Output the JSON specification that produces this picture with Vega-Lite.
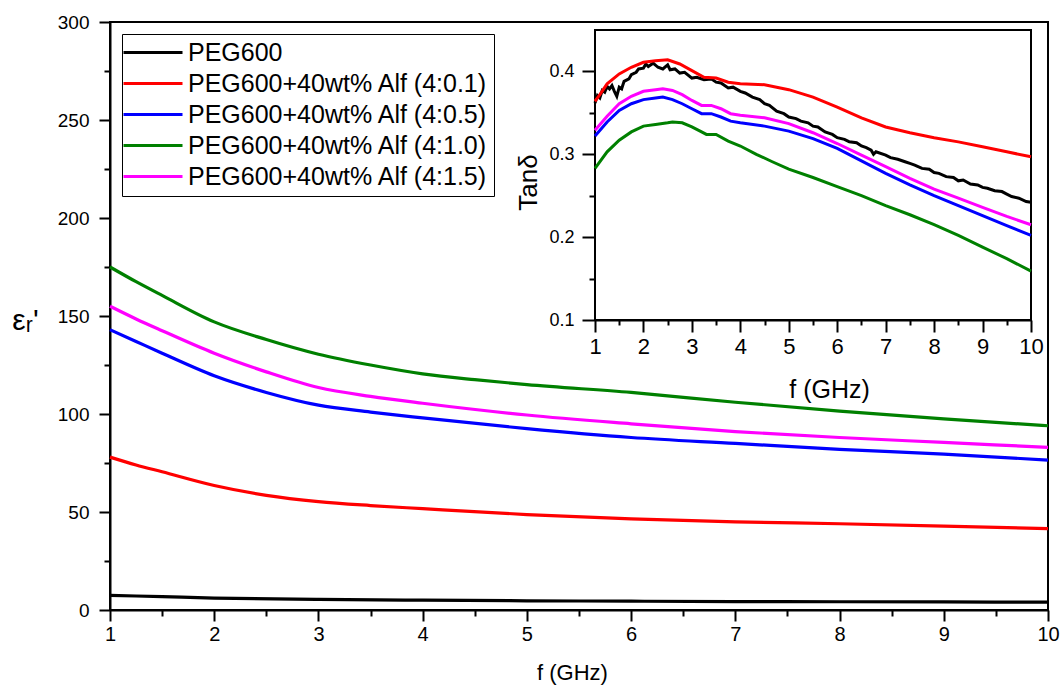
{
  "$schema": "https://vega.github.io/schema/vega-lite/v6.json",
  "autosize": {"type": "none"},
  "padding": {"left": 110, "top": 22, "right": 15, "bottom": 83},
  "width": 938,
  "height": 588,
  "background": "white",
  "config": {
    "view": {"stroke": "black", "strokeWidth": 2},
    "axis": {
      "domainColor": "black", "domainWidth": 2, "tickColor": "black", "tickWidth": 2,
      "labelColor": "black", "labelFont": "Liberation Sans", "titleFont": "Liberation Sans",
      "titleColor": "black", "titleFontWeight": "normal", "grid": false, "zindex": 1,
      "labelFlush": false, "labelOverlap": false
    },
    "legend": {
      "orient": "none", "legendX": 12, "legendY": 12, "title": null,
      "strokeColor": "black", "fillColor": "white", "padding": 6, "rowPadding": 5,
      "symbolType": "M-3.4,0H8.4", "symbolSize": 100, "symbolStrokeWidth": 3,
      "labelFont": "Liberation Sans", "labelFontSize": 25, "labelColor": "black", "labelOffset": 35,
      "labelLimit": 500
    }
  },
  "datasets": {
    "main": [
      {"s": "PEG600", "f": 1, "v": 7.5}, {"s": "PEG600", "f": 1.5, "v": 6.8}, {"s": "PEG600", "f": 2, "v": 6.1},
      {"s": "PEG600", "f": 3, "v": 5.4}, {"s": "PEG600", "f": 4, "v": 5.0}, {"s": "PEG600", "f": 5, "v": 4.7},
      {"s": "PEG600", "f": 6, "v": 4.5}, {"s": "PEG600", "f": 7, "v": 4.3}, {"s": "PEG600", "f": 8, "v": 4.2},
      {"s": "PEG600", "f": 9, "v": 4.1}, {"s": "PEG600", "f": 10, "v": 4.0},
      {"s": "PEG600+40wt% Alf (4:0.1)", "f": 1, "v": 78}, {"s": "PEG600+40wt% Alf (4:0.1)", "f": 1.25, "v": 74},
      {"s": "PEG600+40wt% Alf (4:0.1)", "f": 1.5, "v": 70.5}, {"s": "PEG600+40wt% Alf (4:0.1)", "f": 2, "v": 63.5},
      {"s": "PEG600+40wt% Alf (4:0.1)", "f": 2.5, "v": 58.5}, {"s": "PEG600+40wt% Alf (4:0.1)", "f": 3, "v": 55.3},
      {"s": "PEG600+40wt% Alf (4:0.1)", "f": 3.5, "v": 53.3}, {"s": "PEG600+40wt% Alf (4:0.1)", "f": 4, "v": 51.7},
      {"s": "PEG600+40wt% Alf (4:0.1)", "f": 5, "v": 48.7}, {"s": "PEG600+40wt% Alf (4:0.1)", "f": 6, "v": 46.5},
      {"s": "PEG600+40wt% Alf (4:0.1)", "f": 7, "v": 45.0}, {"s": "PEG600+40wt% Alf (4:0.1)", "f": 8, "v": 44.0},
      {"s": "PEG600+40wt% Alf (4:0.1)", "f": 9, "v": 42.8}, {"s": "PEG600+40wt% Alf (4:0.1)", "f": 10, "v": 41.5},
      {"s": "PEG600+40wt% Alf (4:0.5)", "f": 1, "v": 143}, {"s": "PEG600+40wt% Alf (4:0.5)", "f": 1.25, "v": 137},
      {"s": "PEG600+40wt% Alf (4:0.5)", "f": 1.5, "v": 131}, {"s": "PEG600+40wt% Alf (4:0.5)", "f": 2, "v": 119.5},
      {"s": "PEG600+40wt% Alf (4:0.5)", "f": 2.5, "v": 111}, {"s": "PEG600+40wt% Alf (4:0.5)", "f": 3, "v": 104.5},
      {"s": "PEG600+40wt% Alf (4:0.5)", "f": 3.5, "v": 101}, {"s": "PEG600+40wt% Alf (4:0.5)", "f": 4, "v": 98},
      {"s": "PEG600+40wt% Alf (4:0.5)", "f": 5, "v": 92.5}, {"s": "PEG600+40wt% Alf (4:0.5)", "f": 6, "v": 88},
      {"s": "PEG600+40wt% Alf (4:0.5)", "f": 7, "v": 85}, {"s": "PEG600+40wt% Alf (4:0.5)", "f": 8, "v": 82},
      {"s": "PEG600+40wt% Alf (4:0.5)", "f": 9, "v": 79.5}, {"s": "PEG600+40wt% Alf (4:0.5)", "f": 10, "v": 76.5},
      {"s": "PEG600+40wt% Alf (4:1.0)", "f": 1, "v": 175}, {"s": "PEG600+40wt% Alf (4:1.0)", "f": 1.25, "v": 167.5},
      {"s": "PEG600+40wt% Alf (4:1.0)", "f": 1.5, "v": 160.5}, {"s": "PEG600+40wt% Alf (4:1.0)", "f": 2, "v": 147},
      {"s": "PEG600+40wt% Alf (4:1.0)", "f": 2.5, "v": 138}, {"s": "PEG600+40wt% Alf (4:1.0)", "f": 3, "v": 130.5},
      {"s": "PEG600+40wt% Alf (4:1.0)", "f": 3.5, "v": 125}, {"s": "PEG600+40wt% Alf (4:1.0)", "f": 4, "v": 120.5},
      {"s": "PEG600+40wt% Alf (4:1.0)", "f": 4.5, "v": 117.5}, {"s": "PEG600+40wt% Alf (4:1.0)", "f": 5, "v": 115},
      {"s": "PEG600+40wt% Alf (4:1.0)", "f": 6, "v": 111}, {"s": "PEG600+40wt% Alf (4:1.0)", "f": 7, "v": 106},
      {"s": "PEG600+40wt% Alf (4:1.0)", "f": 8, "v": 101.5}, {"s": "PEG600+40wt% Alf (4:1.0)", "f": 9, "v": 97.5},
      {"s": "PEG600+40wt% Alf (4:1.0)", "f": 10, "v": 94},
      {"s": "PEG600+40wt% Alf (4:1.5)", "f": 1, "v": 155}, {"s": "PEG600+40wt% Alf (4:1.5)", "f": 1.25, "v": 148.5},
      {"s": "PEG600+40wt% Alf (4:1.5)", "f": 1.5, "v": 142.5}, {"s": "PEG600+40wt% Alf (4:1.5)", "f": 2, "v": 131},
      {"s": "PEG600+40wt% Alf (4:1.5)", "f": 2.5, "v": 121.5}, {"s": "PEG600+40wt% Alf (4:1.5)", "f": 3, "v": 113.5},
      {"s": "PEG600+40wt% Alf (4:1.5)", "f": 3.5, "v": 109}, {"s": "PEG600+40wt% Alf (4:1.5)", "f": 4, "v": 105.5},
      {"s": "PEG600+40wt% Alf (4:1.5)", "f": 5, "v": 99.5}, {"s": "PEG600+40wt% Alf (4:1.5)", "f": 6, "v": 95},
      {"s": "PEG600+40wt% Alf (4:1.5)", "f": 7, "v": 91}, {"s": "PEG600+40wt% Alf (4:1.5)", "f": 8, "v": 88},
      {"s": "PEG600+40wt% Alf (4:1.5)", "f": 9, "v": 85.5}, {"s": "PEG600+40wt% Alf (4:1.5)", "f": 10, "v": 83}
    ],
    "inset": [
      {"s": "PEG600", "f": 1.0, "v": 0.362}, {"s": "PEG600", "f": 1.05, "v": 0.371}, {"s": "PEG600", "f": 1.1, "v": 0.368},
      {"s": "PEG600", "f": 1.15, "v": 0.377}, {"s": "PEG600", "f": 1.2, "v": 0.375}, {"s": "PEG600", "f": 1.25, "v": 0.382},
      {"s": "PEG600", "f": 1.3, "v": 0.379}, {"s": "PEG600", "f": 1.35, "v": 0.383}, {"s": "PEG600", "f": 1.4, "v": 0.376},
      {"s": "PEG600", "f": 1.45, "v": 0.370}, {"s": "PEG600", "f": 1.5, "v": 0.381}, {"s": "PEG600", "f": 1.55, "v": 0.379},
      {"s": "PEG600", "f": 1.6, "v": 0.388}, {"s": "PEG600", "f": 1.7, "v": 0.391}, {"s": "PEG600", "f": 1.75, "v": 0.396},
      {"s": "PEG600", "f": 1.85, "v": 0.399}, {"s": "PEG600", "f": 1.9, "v": 0.403}, {"s": "PEG600", "f": 2.0, "v": 0.404},
      {"s": "PEG600", "f": 2.05, "v": 0.409}, {"s": "PEG600", "f": 2.1, "v": 0.406}, {"s": "PEG600", "f": 2.2, "v": 0.410},
      {"s": "PEG600", "f": 2.3, "v": 0.405}, {"s": "PEG600", "f": 2.4, "v": 0.403}, {"s": "PEG600", "f": 2.5, "v": 0.408},
      {"s": "PEG600", "f": 2.55, "v": 0.402}, {"s": "PEG600", "f": 2.65, "v": 0.403}, {"s": "PEG600", "f": 2.75, "v": 0.398},
      {"s": "PEG600", "f": 2.85, "v": 0.399}, {"s": "PEG600", "f": 3.0, "v": 0.392}, {"s": "PEG600", "f": 3.1, "v": 0.393},
      {"s": "PEG600", "f": 3.25, "v": 0.390}, {"s": "PEG600", "f": 3.4, "v": 0.391}, {"s": "PEG600", "f": 3.5, "v": 0.387},
      {"s": "PEG600", "f": 3.6, "v": 0.386}, {"s": "PEG600", "f": 3.75, "v": 0.380}, {"s": "PEG600", "f": 3.85, "v": 0.381},
      {"s": "PEG600", "f": 4.0, "v": 0.376}, {"s": "PEG600", "f": 4.1, "v": 0.374}, {"s": "PEG600", "f": 4.25, "v": 0.369},
      {"s": "PEG600", "f": 4.4, "v": 0.366}, {"s": "PEG600", "f": 4.5, "v": 0.361}, {"s": "PEG600", "f": 4.6, "v": 0.359},
      {"s": "PEG600", "f": 4.75, "v": 0.352}, {"s": "PEG600", "f": 4.9, "v": 0.349}, {"s": "PEG600", "f": 5.0, "v": 0.345},
      {"s": "PEG600", "f": 5.15, "v": 0.343}, {"s": "PEG600", "f": 5.25, "v": 0.340}, {"s": "PEG600", "f": 5.4, "v": 0.338},
      {"s": "PEG600", "f": 5.5, "v": 0.334}, {"s": "PEG600", "f": 5.6, "v": 0.333}, {"s": "PEG600", "f": 5.75, "v": 0.327},
      {"s": "PEG600", "f": 5.9, "v": 0.324}, {"s": "PEG600", "f": 6.0, "v": 0.320}, {"s": "PEG600", "f": 6.15, "v": 0.318},
      {"s": "PEG600", "f": 6.25, "v": 0.315}, {"s": "PEG600", "f": 6.4, "v": 0.314}, {"s": "PEG600", "f": 6.5, "v": 0.310},
      {"s": "PEG600", "f": 6.6, "v": 0.308}, {"s": "PEG600", "f": 6.7, "v": 0.305}, {"s": "PEG600", "f": 6.75, "v": 0.300},
      {"s": "PEG600", "f": 6.8, "v": 0.303}, {"s": "PEG600", "f": 7.0, "v": 0.299}, {"s": "PEG600", "f": 7.1, "v": 0.296},
      {"s": "PEG600", "f": 7.25, "v": 0.294}, {"s": "PEG600", "f": 7.4, "v": 0.291}, {"s": "PEG600", "f": 7.5, "v": 0.289},
      {"s": "PEG600", "f": 7.6, "v": 0.287}, {"s": "PEG600", "f": 7.75, "v": 0.283}, {"s": "PEG600", "f": 7.9, "v": 0.282},
      {"s": "PEG600", "f": 8.0, "v": 0.278}, {"s": "PEG600", "f": 8.1, "v": 0.277}, {"s": "PEG600", "f": 8.25, "v": 0.273},
      {"s": "PEG600", "f": 8.4, "v": 0.272}, {"s": "PEG600", "f": 8.5, "v": 0.268}, {"s": "PEG600", "f": 8.6, "v": 0.269},
      {"s": "PEG600", "f": 8.75, "v": 0.264}, {"s": "PEG600", "f": 8.9, "v": 0.263}, {"s": "PEG600", "f": 9.0, "v": 0.260},
      {"s": "PEG600", "f": 9.1, "v": 0.259}, {"s": "PEG600", "f": 9.25, "v": 0.256}, {"s": "PEG600", "f": 9.4, "v": 0.255},
      {"s": "PEG600", "f": 9.5, "v": 0.252}, {"s": "PEG600", "f": 9.6, "v": 0.249}, {"s": "PEG600", "f": 9.75, "v": 0.247},
      {"s": "PEG600", "f": 9.9, "v": 0.243}, {"s": "PEG600", "f": 10.0, "v": 0.242},
      {"s": "PEG600+40wt% Alf (4:0.1)", "f": 1.0, "v": 0.364}, {"s": "PEG600+40wt% Alf (4:0.1)", "f": 1.1, "v": 0.372},
      {"s": "PEG600+40wt% Alf (4:0.1)", "f": 1.25, "v": 0.385}, {"s": "PEG600+40wt% Alf (4:0.1)", "f": 1.5, "v": 0.397},
      {"s": "PEG600+40wt% Alf (4:0.1)", "f": 1.75, "v": 0.405}, {"s": "PEG600+40wt% Alf (4:0.1)", "f": 2.0, "v": 0.411},
      {"s": "PEG600+40wt% Alf (4:0.1)", "f": 2.25, "v": 0.413}, {"s": "PEG600+40wt% Alf (4:0.1)", "f": 2.5, "v": 0.414},
      {"s": "PEG600+40wt% Alf (4:0.1)", "f": 2.75, "v": 0.409}, {"s": "PEG600+40wt% Alf (4:0.1)", "f": 3.0, "v": 0.401},
      {"s": "PEG600+40wt% Alf (4:0.1)", "f": 3.25, "v": 0.393}, {"s": "PEG600+40wt% Alf (4:0.1)", "f": 3.5, "v": 0.392},
      {"s": "PEG600+40wt% Alf (4:0.1)", "f": 3.75, "v": 0.387}, {"s": "PEG600+40wt% Alf (4:0.1)", "f": 4.0, "v": 0.385},
      {"s": "PEG600+40wt% Alf (4:0.1)", "f": 4.5, "v": 0.384}, {"s": "PEG600+40wt% Alf (4:0.1)", "f": 5.0, "v": 0.378},
      {"s": "PEG600+40wt% Alf (4:0.1)", "f": 5.5, "v": 0.369}, {"s": "PEG600+40wt% Alf (4:0.1)", "f": 6.0, "v": 0.357},
      {"s": "PEG600+40wt% Alf (4:0.1)", "f": 6.5, "v": 0.344}, {"s": "PEG600+40wt% Alf (4:0.1)", "f": 7.0, "v": 0.333},
      {"s": "PEG600+40wt% Alf (4:0.1)", "f": 7.5, "v": 0.326}, {"s": "PEG600+40wt% Alf (4:0.1)", "f": 8.0, "v": 0.320},
      {"s": "PEG600+40wt% Alf (4:0.1)", "f": 8.5, "v": 0.315}, {"s": "PEG600+40wt% Alf (4:0.1)", "f": 9.0, "v": 0.309},
      {"s": "PEG600+40wt% Alf (4:0.1)", "f": 9.5, "v": 0.303}, {"s": "PEG600+40wt% Alf (4:0.1)", "f": 10.0, "v": 0.297},
      {"s": "PEG600+40wt% Alf (4:0.5)", "f": 1.0, "v": 0.322}, {"s": "PEG600+40wt% Alf (4:0.5)", "f": 1.25, "v": 0.339},
      {"s": "PEG600+40wt% Alf (4:0.5)", "f": 1.5, "v": 0.353}, {"s": "PEG600+40wt% Alf (4:0.5)", "f": 1.75, "v": 0.361},
      {"s": "PEG600+40wt% Alf (4:0.5)", "f": 2.0, "v": 0.366}, {"s": "PEG600+40wt% Alf (4:0.5)", "f": 2.25, "v": 0.368},
      {"s": "PEG600+40wt% Alf (4:0.5)", "f": 2.4, "v": 0.369}, {"s": "PEG600+40wt% Alf (4:0.5)", "f": 2.6, "v": 0.366},
      {"s": "PEG600+40wt% Alf (4:0.5)", "f": 2.8, "v": 0.361}, {"s": "PEG600+40wt% Alf (4:0.5)", "f": 3.0, "v": 0.355},
      {"s": "PEG600+40wt% Alf (4:0.5)", "f": 3.2, "v": 0.349}, {"s": "PEG600+40wt% Alf (4:0.5)", "f": 3.4, "v": 0.349},
      {"s": "PEG600+40wt% Alf (4:0.5)", "f": 3.6, "v": 0.345}, {"s": "PEG600+40wt% Alf (4:0.5)", "f": 3.8, "v": 0.340},
      {"s": "PEG600+40wt% Alf (4:0.5)", "f": 4.0, "v": 0.338}, {"s": "PEG600+40wt% Alf (4:0.5)", "f": 4.5, "v": 0.334},
      {"s": "PEG600+40wt% Alf (4:0.5)", "f": 5.0, "v": 0.328}, {"s": "PEG600+40wt% Alf (4:0.5)", "f": 5.5, "v": 0.319},
      {"s": "PEG600+40wt% Alf (4:0.5)", "f": 6.0, "v": 0.307}, {"s": "PEG600+40wt% Alf (4:0.5)", "f": 6.5, "v": 0.292},
      {"s": "PEG600+40wt% Alf (4:0.5)", "f": 7.0, "v": 0.277}, {"s": "PEG600+40wt% Alf (4:0.5)", "f": 7.5, "v": 0.263},
      {"s": "PEG600+40wt% Alf (4:0.5)", "f": 8.0, "v": 0.250}, {"s": "PEG600+40wt% Alf (4:0.5)", "f": 8.5, "v": 0.238},
      {"s": "PEG600+40wt% Alf (4:0.5)", "f": 9.0, "v": 0.226}, {"s": "PEG600+40wt% Alf (4:0.5)", "f": 9.5, "v": 0.214},
      {"s": "PEG600+40wt% Alf (4:0.5)", "f": 10.0, "v": 0.202},
      {"s": "PEG600+40wt% Alf (4:1.0)", "f": 1.0, "v": 0.283}, {"s": "PEG600+40wt% Alf (4:1.0)", "f": 1.25, "v": 0.303},
      {"s": "PEG600+40wt% Alf (4:1.0)", "f": 1.5, "v": 0.317}, {"s": "PEG600+40wt% Alf (4:1.0)", "f": 1.75, "v": 0.327},
      {"s": "PEG600+40wt% Alf (4:1.0)", "f": 2.0, "v": 0.334}, {"s": "PEG600+40wt% Alf (4:1.0)", "f": 2.25, "v": 0.336},
      {"s": "PEG600+40wt% Alf (4:1.0)", "f": 2.5, "v": 0.338}, {"s": "PEG600+40wt% Alf (4:1.0)", "f": 2.6, "v": 0.339},
      {"s": "PEG600+40wt% Alf (4:1.0)", "f": 2.8, "v": 0.338}, {"s": "PEG600+40wt% Alf (4:1.0)", "f": 3.0, "v": 0.333},
      {"s": "PEG600+40wt% Alf (4:1.0)", "f": 3.2, "v": 0.327}, {"s": "PEG600+40wt% Alf (4:1.0)", "f": 3.3, "v": 0.324},
      {"s": "PEG600+40wt% Alf (4:1.0)", "f": 3.5, "v": 0.324}, {"s": "PEG600+40wt% Alf (4:1.0)", "f": 3.75, "v": 0.316},
      {"s": "PEG600+40wt% Alf (4:1.0)", "f": 4.0, "v": 0.310}, {"s": "PEG600+40wt% Alf (4:1.0)", "f": 4.33, "v": 0.300},
      {"s": "PEG600+40wt% Alf (4:1.0)", "f": 4.66, "v": 0.291}, {"s": "PEG600+40wt% Alf (4:1.0)", "f": 5.0, "v": 0.282},
      {"s": "PEG600+40wt% Alf (4:1.0)", "f": 5.5, "v": 0.272}, {"s": "PEG600+40wt% Alf (4:1.0)", "f": 6.0, "v": 0.261},
      {"s": "PEG600+40wt% Alf (4:1.0)", "f": 6.5, "v": 0.250}, {"s": "PEG600+40wt% Alf (4:1.0)", "f": 7.0, "v": 0.238},
      {"s": "PEG600+40wt% Alf (4:1.0)", "f": 7.5, "v": 0.227}, {"s": "PEG600+40wt% Alf (4:1.0)", "f": 8.0, "v": 0.215},
      {"s": "PEG600+40wt% Alf (4:1.0)", "f": 8.5, "v": 0.202}, {"s": "PEG600+40wt% Alf (4:1.0)", "f": 9.0, "v": 0.188},
      {"s": "PEG600+40wt% Alf (4:1.0)", "f": 9.5, "v": 0.174}, {"s": "PEG600+40wt% Alf (4:1.0)", "f": 10.0, "v": 0.159},
      {"s": "PEG600+40wt% Alf (4:1.5)", "f": 1.0, "v": 0.329}, {"s": "PEG600+40wt% Alf (4:1.5)", "f": 1.25, "v": 0.346},
      {"s": "PEG600+40wt% Alf (4:1.5)", "f": 1.5, "v": 0.361}, {"s": "PEG600+40wt% Alf (4:1.5)", "f": 1.75, "v": 0.370},
      {"s": "PEG600+40wt% Alf (4:1.5)", "f": 2.0, "v": 0.376}, {"s": "PEG600+40wt% Alf (4:1.5)", "f": 2.25, "v": 0.378},
      {"s": "PEG600+40wt% Alf (4:1.5)", "f": 2.4, "v": 0.379}, {"s": "PEG600+40wt% Alf (4:1.5)", "f": 2.6, "v": 0.377},
      {"s": "PEG600+40wt% Alf (4:1.5)", "f": 2.8, "v": 0.372}, {"s": "PEG600+40wt% Alf (4:1.5)", "f": 3.0, "v": 0.365},
      {"s": "PEG600+40wt% Alf (4:1.5)", "f": 3.2, "v": 0.359}, {"s": "PEG600+40wt% Alf (4:1.5)", "f": 3.4, "v": 0.359},
      {"s": "PEG600+40wt% Alf (4:1.5)", "f": 3.6, "v": 0.355}, {"s": "PEG600+40wt% Alf (4:1.5)", "f": 3.8, "v": 0.349},
      {"s": "PEG600+40wt% Alf (4:1.5)", "f": 4.0, "v": 0.347}, {"s": "PEG600+40wt% Alf (4:1.5)", "f": 4.5, "v": 0.344},
      {"s": "PEG600+40wt% Alf (4:1.5)", "f": 5.0, "v": 0.337}, {"s": "PEG600+40wt% Alf (4:1.5)", "f": 5.5, "v": 0.326},
      {"s": "PEG600+40wt% Alf (4:1.5)", "f": 6.0, "v": 0.313}, {"s": "PEG600+40wt% Alf (4:1.5)", "f": 6.5, "v": 0.299},
      {"s": "PEG600+40wt% Alf (4:1.5)", "f": 7.0, "v": 0.285}, {"s": "PEG600+40wt% Alf (4:1.5)", "f": 7.5, "v": 0.271},
      {"s": "PEG600+40wt% Alf (4:1.5)", "f": 8.0, "v": 0.258}, {"s": "PEG600+40wt% Alf (4:1.5)", "f": 8.5, "v": 0.247},
      {"s": "PEG600+40wt% Alf (4:1.5)", "f": 9.0, "v": 0.236}, {"s": "PEG600+40wt% Alf (4:1.5)", "f": 9.5, "v": 0.225},
      {"s": "PEG600+40wt% Alf (4:1.5)", "f": 10.0, "v": 0.215}
    ]
  },
  "layer": [
    {
      "data": {"name": "main"},
      "mark": {"type": "line", "strokeWidth": 3.2, "interpolate": "monotone"},
      "encoding": {
        "x": {"field": "f", "type": "quantitative",
          "scale": {"domain": [1, 10], "range": [0, 938], "nice": false, "zero": false},
          "axis": {"orient": "bottom", "values": [1, 2, 3, 4, 5, 6, 7, 8, 9, 10], "format": "d",
            "tickSize": 11, "labelFontSize": 20, "labelPadding": 3,
            "title": "f (GHz)", "titleFontSize": 22, "titleX": 462, "titleY": 62,
            "titleAlign": "center", "titleBaseline": "middle"}},
        "y": {"field": "v", "type": "quantitative",
          "scale": {"domain": [0, 300], "range": [588, 0], "nice": false, "zero": false},
          "axis": {"orient": "left", "values": [0, 50, 100, 150, 200, 250, 300],
            "tickSize": 11, "labelFontSize": 19, "labelPadding": 10,
            "title": "εᵣ'", "titleFontSize": 30, "titleAngle": 0, "titleX": -85, "titleY": 298,
            "titleAlign": "center", "titleBaseline": "middle"}},
        "color": {"field": "s", "type": "nominal",
          "scale": {"domain": ["PEG600", "PEG600+40wt% Alf (4:0.1)", "PEG600+40wt% Alf (4:0.5)", "PEG600+40wt% Alf (4:1.0)", "PEG600+40wt% Alf (4:1.5)"],
            "range": ["#000000", "#ff0000", "#0000ff", "#008000", "#ff00ff"]}}
      }
    },
    {
      "data": {"name": "main"},
      "mark": {"type": "point", "opacity": 0},
      "encoding": {
        "x": {"datum": 1, "type": "quantitative",
          "scale": {"domain": [1, 10], "range": [0, 938], "nice": false, "zero": false},
          "axis": {"orient": "bottom", "values": [1.5, 2.5, 3.5, 4.5, 5.5, 6.5, 7.5, 8.5, 9.5],
            "tickSize": 6, "labels": false, "domain": false, "title": null}},
        "y": {"datum": 0, "type": "quantitative",
          "scale": {"domain": [0, 300], "range": [588, 0], "nice": false, "zero": false},
          "axis": {"orient": "left", "values": [25, 75, 125, 175, 225, 275],
            "tickSize": 6, "labels": false, "domain": false, "title": null}}
      }
    },
    {
      "data": {"name": "main"},
      "mark": {"type": "rect", "fill": "white", "stroke": "black", "strokeWidth": 2},
      "encoding": {
        "x": {"datum": 1, "type": "quantitative",
          "scale": {"domain": [1, 10], "range": [485, 921], "nice": false, "zero": false},
          "axis": {"orient": "bottom", "offset": -290, "values": [1, 2, 3, 4, 5, 6, 7, 8, 9, 10], "format": "d",
            "tickSize": 12, "labelFontSize": 22, "labelPadding": 4,
            "title": "f (GHz)", "titleFontSize": 25, "titleX": 719, "titleY": 69,
            "titleAlign": "center", "titleBaseline": "middle"}},
        "x2": {"datum": 10},
        "y": {"datum": 0.1, "type": "quantitative",
          "scale": {"domain": [0.1, 0.45], "range": [298, 8], "nice": false, "zero": false},
          "axis": {"orient": "left", "offset": -485, "values": [0.1, 0.2, 0.3, 0.4], "format": ".1f",
            "tickSize": 13, "labelFontSize": 18, "labelPadding": 8,
            "title": "Tanδ", "titleFontSize": 26, "titleAngle": -90, "titleX": -67, "titleY": 160,
            "titleAlign": "center", "titleBaseline": "middle"}},
        "y2": {"datum": 0.45}
      }
    },
    {
      "data": {"name": "inset"},
      "mark": {"type": "line", "strokeWidth": 3},
      "encoding": {
        "x": {"field": "f", "type": "quantitative",
          "scale": {"domain": [1, 10], "range": [485, 921], "nice": false, "zero": false},
          "axis": {"orient": "bottom", "offset": -290, "values": [1.5, 2.5, 3.5, 4.5, 5.5, 6.5, 7.5, 8.5, 9.5],
            "tickSize": 5, "labels": false, "domain": false, "title": null}},
        "y": {"field": "v", "type": "quantitative",
          "scale": {"domain": [0.1, 0.45], "range": [298, 8], "nice": false, "zero": false},
          "axis": {"orient": "left", "offset": -485, "values": [0.15, 0.25, 0.35],
            "tickSize": 6, "labels": false, "domain": false, "title": null}},
        "color": {"field": "s", "type": "nominal",
          "scale": {"domain": ["PEG600", "PEG600+40wt% Alf (4:0.1)", "PEG600+40wt% Alf (4:0.5)", "PEG600+40wt% Alf (4:1.0)", "PEG600+40wt% Alf (4:1.5)"],
            "range": ["#000000", "#ff0000", "#0000ff", "#008000", "#ff00ff"]}}
      }
    }
  ],
  "resolve": {"scale": {"x": "independent", "y": "independent"}, "axis": {"x": "independent", "y": "independent"}}
}
